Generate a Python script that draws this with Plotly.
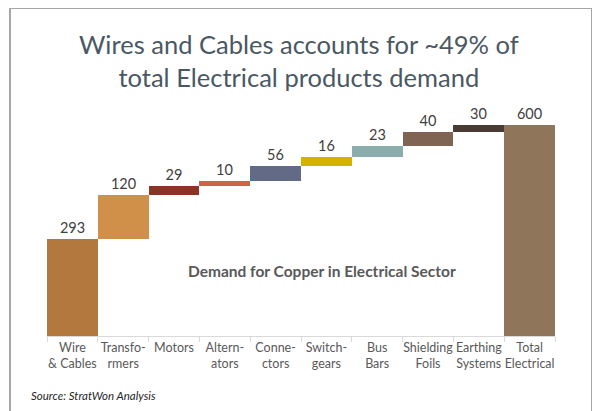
import plotly.graph_objects as go

categories = ["Wire<br>& Cables", "Transfo-<br>rmers", "Motors", "Altern-<br>ators", "Conne-<br>ctors",
              "Switch-<br>gears", "Bus<br>Bars", "Shielding<br>Foils", "Earthing<br>Systems", "Total<br>Electrical"]
label_values = [293, 120, 29, 10, 56, 16, 23, 40, 30, 600]
# bar steps as drawn; last is the total
bar_steps = [276, 125, 25, 15, 42, 26, 31, 40, 20]
total_value = 600
colors = ["#b2783e", "#d09049", "#8a3425", "#d0644a", "#626a86",
          "#cfb500", "#8badac", "#7f6454", "#4a3c34", "#8f765a"]
title_lines = ["Wires and Cables accounts for ~49% of", "total Electrical products demand"]

bases, heights = [], []
run = 0
for s in bar_steps:
    bases.append(run)
    heights.append(s)
    run += s
bases.append(0)
heights.append(total_value)

W, H = 600, 411
OFF = 8  # page body margin offset
# desired screen-space plot box
PX0, PX1, PY0, PY1 = 47, 555, 107, 336
L = PX0 - OFF
R = W - (PX1 - OFF)
T = PY0 - OFF
B = H - (PY1 - OFF)
ph = H - T - B
pw = W - L - R
ymax = 651

def px_x(x):
    return (x - PX0) / pw

def px_y(y):
    return (PY1 - y) / ph

fig = go.Figure()
fig.add_trace(go.Bar(
    x=categories, y=heights, base=bases,
    marker=dict(color=colors, line=dict(width=0)),
    text=[str(v) for v in label_values], textposition="outside",
    textfont=dict(family="Lato", size=14.5, color="#404040"),
    cliponaxis=False, hoverinfo="skip",
))

fig.update_layout(
    width=W, height=H,
    margin=dict(l=L, r=R, t=T, b=B, pad=0, autoexpand=False),
    paper_bgcolor="white", plot_bgcolor="white",
    bargap=0, showlegend=False,
    xaxis=dict(showline=True, linecolor="#d9d9d9", linewidth=1,
               ticks="outside", tickson="boundaries", ticklen=5, tickcolor="#d9d9d9",
               tickangle=0, automargin=False,
               tickfont=dict(family="Lato", size=12.5, color="#595959"),
               showgrid=False, zeroline=False, fixedrange=True),
    yaxis=dict(range=[0, ymax], visible=False, showgrid=False, zeroline=False, automargin=False),
    font=dict(family="Lato"),
)

fig.add_shape(type="rect", xref="paper", yref="paper",
              x0=px_x(10), x1=px_x(592), y0=px_y(430), y1=px_y(8),
              line=dict(color="#a6a6a6", width=2), fillcolor="rgba(0,0,0,0)", layer="below")

fig.add_annotation(text="<br>".join(title_lines), xref="paper", yref="paper",
                   x=px_x(299), y=px_y(60), showarrow=False, xanchor="center", yanchor="middle",
                   align="center",
                   font=dict(family="Lato", size=25.5, color="#4a5864"))
fig.add_annotation(text="<b>Demand for Copper in Electrical Sector</b>", xref="paper", yref="paper",
                   x=px_x(322), y=px_y(271), showarrow=False, xanchor="center", yanchor="middle",
                   font=dict(family="Lato", size=15.5, color="#595959"))
fig.add_annotation(text="<i>Source: StratWon Analysis</i>", xref="paper", yref="paper",
                   x=px_x(29), y=px_y(395), showarrow=False, xanchor="left", yanchor="middle",
                   font=dict(family="Lato", size=11.5, color="#262626"))

fig.write_html("out.html")
